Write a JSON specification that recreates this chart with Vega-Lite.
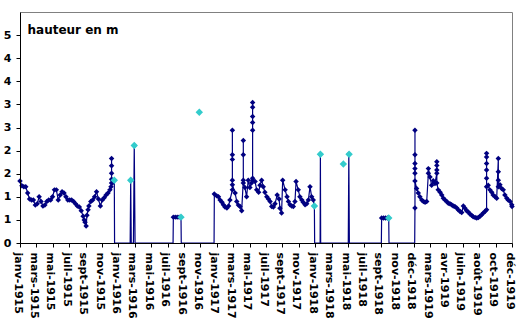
{
  "$schema": "https://vega.github.io/schema/vega-lite/v6.json",
  "width": 492,
  "height": 231,
  "autosize": "none",
  "padding": {"left": 20, "top": 12, "right": 11, "bottom": 85},
  "background": "white",
  "config": {"view": {"stroke": "#808080", "strokeWidth": 1}, "font": "DejaVu Sans"},
  "datasets": {
    "main": [
      {"d":"1915-01-21","h":1.34},{"d":"1915-01-28","h":1.24},{"d":"1915-02-04","h":1.22},{"d":"1915-02-11","h":1.22},
      {"d":"1915-02-18","h":1.08},{"d":"1915-02-25","h":0.95},{"d":"1915-03-04","h":0.93},{"d":"1915-03-11","h":0.93},
      {"d":"1915-03-18","h":0.82},{"d":"1915-03-25","h":0.85},{"d":"1915-04-01","h":1.0},{"d":"1915-04-08","h":0.9},
      {"d":"1915-04-15","h":0.8},{"d":"1915-04-22","h":0.82},{"d":"1915-04-29","h":0.9},{"d":"1915-05-06","h":0.93},
      {"d":"1915-05-13","h":0.93},{"d":"1915-05-20","h":1.0},{"d":"1915-05-27","h":1.15},{"d":"1915-06-03","h":1.15},
      {"d":"1915-06-10","h":0.93},{"d":"1915-06-17","h":1.04},{"d":"1915-06-24","h":1.11},{"d":"1915-07-01","h":1.08},
      {"d":"1915-07-08","h":1.0},{"d":"1915-07-15","h":0.93},{"d":"1915-07-22","h":0.93},{"d":"1915-07-29","h":0.93},
      {"d":"1915-08-05","h":0.9},{"d":"1915-08-12","h":0.85},{"d":"1915-08-19","h":0.8},{"d":"1915-08-26","h":0.78},
      {"d":"1915-09-02","h":0.7},{"d":"1915-09-09","h":0.58},{"d":"1915-09-13","h":0.5},{"d":"1915-09-16","h":0.45},
      {"d":"1915-09-20","h":0.37},{"d":"1915-09-23","h":0.6},{"d":"1915-09-27","h":0.72},{"d":"1915-09-30","h":0.8},
      {"d":"1915-10-07","h":0.9},{"d":"1915-10-14","h":0.93},{"d":"1915-10-21","h":1.0},{"d":"1915-10-28","h":1.11},
      {"d":"1915-11-04","h":0.95},{"d":"1915-11-11","h":0.8},{"d":"1915-11-18","h":0.93},{"d":"1915-11-25","h":0.98},
      {"d":"1915-12-02","h":1.04},{"d":"1915-12-09","h":1.08},{"d":"1915-12-16","h":1.15},{"d":"1915-12-20","h":1.22},
      {"d":"1915-12-22","h":1.3},{"d":"1915-12-22","h":1.51},{"d":"1915-12-22","h":1.83},{"d":"1915-12-22","h":1.67},{"d":"1915-12-22","h":1.38},
      {"d":"1915-12-25","h":1.3},{"d":"1915-12-29","h":1.34},{"d":"1916-01-01","h":1.36},{"d":"1916-01-02","h":0},
      {"d":"1916-02-28","h":0},{"d":"1916-03-01","h":1.36},{"d":"1916-03-03","h":0},
      {"d":"1916-03-11","h":0},{"d":"1916-03-14","h":2.11},{"d":"1916-03-17","h":0},
      {"d":"1916-08-03","h":0},{"d":"1916-08-04","h":0.56},{"d":"1916-08-11","h":0.56},{"d":"1916-08-18","h":0.56},
      {"d":"1916-08-25","h":0.56},{"d":"1916-09-01","h":0.56},{"d":"1916-09-02","h":0},
      {"d":"1916-12-31","h":0},
      {"d":"1917-01-01","h":1.06},{"d":"1917-01-10","h":1.02},{"d":"1917-01-16","h":1.0},{"d":"1917-01-22","h":0.93},
      {"d":"1917-01-29","h":0.88},{"d":"1917-02-03","h":0.83},{"d":"1917-02-09","h":0.78},{"d":"1917-02-16","h":0.76},
      {"d":"1917-02-22","h":0.8},{"d":"1917-02-27","h":0.93},
      {"d":"1917-03-08","h":1.15},{"d":"1917-03-08","h":1.36},{"d":"1917-03-08","h":1.91},{"d":"1917-03-08","h":2.44},{"d":"1917-03-08","h":1.81},{"d":"1917-03-08","h":1.26},
      {"d":"1917-03-18","h":1.08},{"d":"1917-03-24","h":0.9},{"d":"1917-03-30","h":0.82},{"d":"1917-04-05","h":0.79},
      {"d":"1917-04-11","h":0.7},
      {"d":"1917-04-17","h":1.36},{"d":"1917-04-17","h":2.22},{"d":"1917-04-17","h":1.91},{"d":"1917-04-17","h":1.3},
      {"d":"1917-04-23","h":1.2},{"d":"1917-04-29","h":1.0},{"d":"1917-05-05","h":1.36},{"d":"1917-05-11","h":1.2},
      {"d":"1917-05-17","h":1.3},
      {"d":"1917-05-21","h":1.36},{"d":"1917-05-21","h":2.61},{"d":"1917-05-21","h":3.04},{"d":"1917-05-21","h":2.94},{"d":"1917-05-21","h":2.74},{"d":"1917-05-21","h":2.44},{"d":"1917-05-21","h":1.4},
      {"d":"1917-05-30","h":1.33},{"d":"1917-06-05","h":1.15},{"d":"1917-06-12","h":1.1},{"d":"1917-06-17","h":1.25},
      {"d":"1917-06-23","h":1.36},{"d":"1917-06-29","h":1.22},{"d":"1917-07-05","h":1.1},{"d":"1917-07-12","h":1.0},
      {"d":"1917-07-18","h":0.95},{"d":"1917-07-24","h":0.9},{"d":"1917-07-30","h":0.79},{"d":"1917-08-05","h":0.78},
      {"d":"1917-08-11","h":0.85},{"d":"1917-08-19","h":1.04},{"d":"1917-08-26","h":0.95},{"d":"1917-08-29","h":0.75},
      {"d":"1917-09-04","h":0.65},{"d":"1917-09-08","h":1.36},{"d":"1917-09-17","h":1.15},{"d":"1917-09-24","h":1.0},
      {"d":"1917-09-29","h":0.9},{"d":"1917-10-05","h":0.83},{"d":"1917-10-11","h":0.8},{"d":"1917-10-17","h":0.79},
      {"d":"1917-10-23","h":0.9},{"d":"1917-10-27","h":1.33},{"d":"1917-11-04","h":1.15},{"d":"1917-11-10","h":1.0},
      {"d":"1917-11-17","h":0.93},{"d":"1917-11-22","h":0.88},{"d":"1917-11-29","h":0.83},{"d":"1917-12-05","h":0.85},
      {"d":"1917-12-11","h":0.93},{"d":"1917-12-17","h":1.22},{"d":"1917-12-23","h":1.0},{"d":"1917-12-29","h":0.93},
      {"d":"1918-01-02","h":0.8},{"d":"1918-01-03","h":0},
      {"d":"1918-01-23","h":0},{"d":"1918-01-24","h":1.92},{"d":"1918-01-25","h":0},
      {"d":"1918-05-06","h":0},{"d":"1918-05-08","h":1.92},{"d":"1918-05-10","h":0},
      {"d":"1918-09-04","h":0},{"d":"1918-09-05","h":0.54},{"d":"1918-09-12","h":0.54},{"d":"1918-09-19","h":0.54},
      {"d":"1918-09-26","h":0.54},{"d":"1918-10-01","h":0.54},{"d":"1918-10-02","h":0},
      {"d":"1919-01-04","h":0},
      {"d":"1919-01-05","h":0.76},{"d":"1919-01-05","h":2.44},{"d":"1919-01-05","h":1.91},{"d":"1919-01-05","h":1.72},{"d":"1919-01-05","h":1.61},{"d":"1919-01-05","h":1.51},{"d":"1919-01-05","h":1.34},
      {"d":"1919-01-11","h":1.18},{"d":"1919-01-17","h":1.08},{"d":"1919-01-23","h":1.0},{"d":"1919-01-30","h":0.93},
      {"d":"1919-02-05","h":0.9},{"d":"1919-02-11","h":0.88},{"d":"1919-02-17","h":0.9},
      {"d":"1919-02-23","h":1.51},{"d":"1919-02-23","h":1.61},
      {"d":"1919-03-01","h":1.43},{"d":"1919-03-07","h":1.25},{"d":"1919-03-13","h":1.35},{"d":"1919-03-19","h":1.29},
      {"d":"1919-03-26","h":1.51},{"d":"1919-03-26","h":1.76},{"d":"1919-03-26","h":1.68},{"d":"1919-03-26","h":1.58},{"d":"1919-03-26","h":1.3},
      {"d":"1919-03-31","h":1.15},{"d":"1919-04-07","h":1.1},{"d":"1919-04-13","h":1.04},{"d":"1919-04-19","h":0.97},
      {"d":"1919-04-25","h":0.93},{"d":"1919-05-01","h":0.9},{"d":"1919-05-07","h":0.86},{"d":"1919-05-13","h":0.85},
      {"d":"1919-05-19","h":0.83},{"d":"1919-05-25","h":0.8},{"d":"1919-05-31","h":0.79},{"d":"1919-06-07","h":0.76},
      {"d":"1919-06-12","h":0.72},{"d":"1919-06-19","h":0.68},{"d":"1919-06-25","h":0.66},{"d":"1919-07-01","h":0.8},
      {"d":"1919-07-07","h":0.75},{"d":"1919-07-13","h":0.7},{"d":"1919-07-19","h":0.67},{"d":"1919-07-25","h":0.63},
      {"d":"1919-07-31","h":0.6},{"d":"1919-08-06","h":0.57},{"d":"1919-08-13","h":0.55},{"d":"1919-08-19","h":0.54},
      {"d":"1919-08-25","h":0.55},{"d":"1919-08-31","h":0.58},{"d":"1919-09-06","h":0.61},{"d":"1919-09-12","h":0.65},
      {"d":"1919-09-18","h":0.68},
      {"d":"1919-09-24","h":0.72},{"d":"1919-09-24","h":1.94},{"d":"1919-09-24","h":1.86},{"d":"1919-09-24","h":1.72},{"d":"1919-09-24","h":1.58},{"d":"1919-09-24","h":1.4},{"d":"1919-09-24","h":1.22},
      {"d":"1919-09-30","h":1.25},{"d":"1919-10-06","h":1.15},{"d":"1919-10-13","h":1.1},{"d":"1919-10-18","h":1.04},
      {"d":"1919-10-25","h":1.0},{"d":"1919-10-31","h":0.97},
      {"d":"1919-11-06","h":1.83},{"d":"1919-11-06","h":1.54},{"d":"1919-11-06","h":1.36},{"d":"1919-11-06","h":1.22},
      {"d":"1919-11-12","h":1.26},{"d":"1919-11-18","h":1.18},{"d":"1919-11-24","h":1.15},{"d":"1919-11-30","h":1.04},
      {"d":"1919-12-07","h":0.97},{"d":"1919-12-12","h":0.93},{"d":"1919-12-19","h":0.9},{"d":"1919-12-25","h":0.83},
      {"d":"1919-12-26","h":0.79}
    ],
    "cyan": [
      {"d":"1916-01-01","h":1.36},{"d":"1916-03-01","h":1.36},{"d":"1916-03-14","h":2.11},{"d":"1916-09-01","h":0.56},
      {"d":"1916-11-07","h":2.83},{"d":"1918-01-02","h":0.8},{"d":"1918-01-24","h":1.92},{"d":"1918-04-18","h":1.71},
      {"d":"1918-05-09","h":1.92},{"d":"1918-10-01","h":0.54}
    ]
  },
  "encoding": {
    "x": {
      "field": "d", "type": "temporal",
      "scale": {"type": "utc", "nice": false, "domain": [{"year":1915,"month":1,"date":21,"utc":true},{"year":1919,"month":12,"date":26,"utc":true}]},
      "axis": {
        "values": [
          {"year":1915,"month":1,"date":21,"utc":true},{"year":1915,"month":3,"date":22,"utc":true},{"year":1915,"month":5,"date":21,"utc":true},
          {"year":1915,"month":7,"date":20,"utc":true},{"year":1915,"month":9,"date":18,"utc":true},{"year":1915,"month":11,"date":17,"utc":true},
          {"year":1916,"month":1,"date":16,"utc":true},{"year":1916,"month":3,"date":16,"utc":true},{"year":1916,"month":5,"date":15,"utc":true},
          {"year":1916,"month":7,"date":14,"utc":true},{"year":1916,"month":9,"date":12,"utc":true},{"year":1916,"month":11,"date":11,"utc":true},
          {"year":1917,"month":1,"date":10,"utc":true},{"year":1917,"month":3,"date":11,"utc":true},{"year":1917,"month":5,"date":10,"utc":true},
          {"year":1917,"month":7,"date":9,"utc":true},{"year":1917,"month":9,"date":7,"utc":true},{"year":1917,"month":11,"date":6,"utc":true},
          {"year":1918,"month":1,"date":5,"utc":true},{"year":1918,"month":3,"date":6,"utc":true},{"year":1918,"month":5,"date":5,"utc":true},
          {"year":1918,"month":7,"date":4,"utc":true},{"year":1918,"month":9,"date":2,"utc":true},{"year":1918,"month":11,"date":1,"utc":true},
          {"year":1918,"month":12,"date":31,"utc":true},{"year":1919,"month":3,"date":1,"utc":true},{"year":1919,"month":4,"date":30,"utc":true},
          {"year":1919,"month":6,"date":29,"utc":true},{"year":1919,"month":8,"date":28,"utc":true},{"year":1919,"month":10,"date":27,"utc":true},
          {"year":1919,"month":12,"date":26,"utc":true}
        ],
        "labelExpr": "['janv','févr','mars','avr','mai','juin','juil','août','sept','oct','nov','déc'][utcmonth(datum.value)] + '-' + utcyear(datum.value)",
        "labelAngle": 90, "labelAlign": "left", "labelBaseline": "middle", "labelOffset": -3,
        "labelFont": "DejaVu Sans", "labelFontWeight": "bold", "labelFontSize": 11, "labelColor": "black",
        "labelPadding": 5, "labelOverlap": false, "labelFlush": false, "labelBound": false,
        "tickSize": 4, "tickColor": "black", "domainColor": "black", "grid": false, "title": null, "zindex": 1
      }
    },
    "y": {
      "field": "h", "type": "quantitative",
      "scale": {"domain": [0, 5], "nice": false},
      "axis": {
        "values": [0, 0.5, 1, 1.5, 2, 2.5, 3, 3.5, 4, 4.5],
        "labelExpr": "'' + round(datum.value)",
        "labelFont": "DejaVu Sans", "labelFontWeight": "bold", "labelFontSize": 11, "labelColor": "black",
        "labelPadding": 5, "tickSize": 4, "tickColor": "black", "domainColor": "black", "grid": false, "zindex": 1,
        "title": "hauteur en m", "titleAngle": 0, "titleX": 7, "titleY": 21, "titleAlign": "left", "titleBaseline": "alphabetic",
        "titleFont": "DejaVu Sans", "titleFontSize": 12, "titleFontWeight": "bold", "titleColor": "black"
      }
    }
  },
  "layer": [
    {"data": {"name": "main"}, "mark": {"type": "line", "color": "#000080", "strokeWidth": 1.2}},
    {"data": {"name": "main"}, "transform": [{"filter": "datum.h > 0"}], "mark": {"type": "point", "shape": "diamond", "filled": true, "color": "#000080", "size": 30, "opacity": 1}},
    {"data": {"name": "cyan"}, "mark": {"type": "point", "shape": "diamond", "filled": true, "color": "#33CCCC", "size": 55, "opacity": 1}}
  ]
}
